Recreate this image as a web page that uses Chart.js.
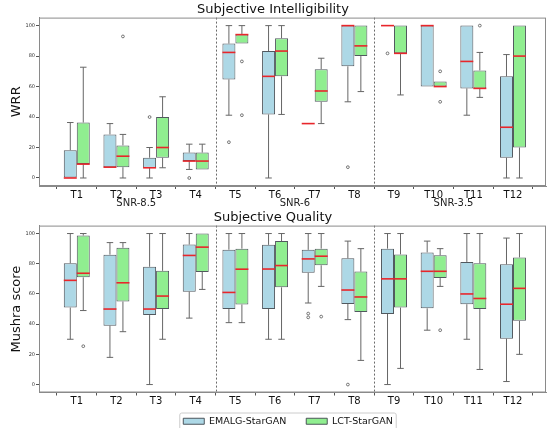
<!DOCTYPE html>
<html>
<head>
<meta charset="utf-8">
<script src="https://cdn.jsdelivr.net/npm/chart.js@4.4.1/dist/chart.umd.min.js"></script>
<style>
    html, body { margin: 0; padding: 0; background: #fff; overflow: hidden; }
    #wrap { position: relative; width: 547px; height: 428px; overflow: hidden; }
    .pane { position: absolute; left: 0; width: 547px; }
    #topPane { top: 0; height: 210px; }
    #botPane { top: 209px; height: 227px; }
</style>
</head>
<body>
<div id="wrap">
    <div class="pane" id="topPane"><canvas id="wrrChart"></canvas></div>
    <div class="pane" id="botPane"><canvas id="mosChart"></canvas></div>
</div>
<script>
// ---- data ----
const labels = ['T1','T2','T3','T4','T5','T6','T7','T8','T9','T10','T11','T12'];
const seriesNames = ['EMALG-StarGAN', 'LCT-StarGAN'];
const snrGroups = ['SNR-8.5', 'SNR-6', 'SNR-3.5'];
const snrGroupPos = [2.5, 6.5, 10.5];
const yTicks = [0, 20, 40, 60, 80, 100];

// WRR, EMALG-StarGAN
const wrrEmalgLo  = [0, 7.1, 0, 5.6, 41.2, 0, 35.7, 50, 100, 60, 41.2, 0];
const wrrEmalgQ1  = [0, 7.1, 6.7, 11.1, 64.7, 41.7, 35.7, 73.3, 100, 60, 58.8, 13.3];
const wrrEmalgMed = [0, 7.1, 6.7, 11.1, 82.4, 66.7, 35.7, 100, 100, 100, 76.5, 33.3];
const wrrEmalgQ3  = [18.2, 28.6, 13.3, 16.7, 88.2, 83.3, 35.7, 100, 100, 100, 100, 66.7];
const wrrEmalgHi  = [36.4, 35.7, 20, 22.2, 100, 100, 35.7, 100, 100, 100, 100, 81];
const wrrEmalgOut = [[], [], [40], [0], [23.5], [], [], [7.1], [81.8], [], [], []];

// WRR, LCT-StarGAN
const wrrLctLo  = [0, 0, 6.7, 5.6, 88.2, 41.7, 35.7, 56.7, 54.5, 60, 52.9, 0];
const wrrLctQ1  = [9.1, 7.1, 13.3, 5.6, 88.2, 66.7, 50, 80, 81.8, 60, 58.8, 20];
const wrrLctMed = [9.1, 14.3, 20, 11.1, 94.1, 83.3, 57.1, 86.7, 81.8, 60, 58.8, 80];
const wrrLctQ3  = [36.4, 21.4, 40, 16.7, 94.1, 91.7, 71.4, 100, 100, 63.3, 70.6, 100];
const wrrLctHi  = [72.7, 28.6, 53.3, 22.2, 100, 100, 78.6, 100, 100, 63.3, 82.4, 100];
const wrrLctOut = [[], [92.9], [], [], [76.5, 41.2], [], [], [], [], [70, 50], [100], []];

// Mushra, EMALG-StarGAN
const mosEmalgLo  = [30, 18, 0, 44, 41, 30, 54, 43, 0, 36, 30, 2];
const mosEmalgQ1  = [51, 39, 46, 61.5, 50, 50, 74, 53.4, 46.8, 50.5, 53.2, 30.4];
const mosEmalgMed = [69, 50, 50, 85.5, 61, 76.5, 83.2, 62.6, 70, 75, 60, 53.2];
const mosEmalgQ3  = [80.3, 86, 78, 92.7, 89.3, 92.5, 89.2, 83.6, 90, 87.5, 81.2, 79.6];
const mosEmalgHi  = [100, 94, 100, 100, 100, 100, 100, 95, 100, 95, 100, 97];
const mosEmalgOut = [[], [], [], [], [], [], [47, 44.5], [0], [], [], [], []];

// Mushra, LCT-StarGAN
const mosLctLo  = [49, 35, 30, 63, 41, 30, 65, 16, 10.7, 65, 10, 20];
const mosLctQ1  = [71, 55, 50, 74.6, 53, 64.4, 79, 48, 51, 70.5, 50, 42.2];
const mosLctMed = [73.7, 67.4, 58.6, 91, 76.4, 78.8, 85, 58, 70, 75, 57, 63.7];
const mosLctQ3  = [98.7, 90.6, 75.3, 100, 90, 95, 90, 74.8, 86.2, 85.6, 80.3, 84.2];
const mosLctHi  = [100, 94, 100, 100, 100, 100, 100, 90, 100, 90, 100, 100];
const mosLctOut = [[25.4], [], [], [], [], [], [45], [], [], [36], [], []];

(function() {
    'use strict';

    const FONT = "'DejaVu Sans', 'Liberation Sans', sans-serif";
    const BLUE = '#add8e6', GREEN = '#90ee90';
    const EDGE = 'rgba(62,70,76,0.9)', WHISK = '#666', MED = '#e8262b';

    function boxSet(name, color, q1, q3, med, lo, hi, out) {
        return {
            label: name,
            data: labels.map((l, i) => ({ x: i + 1, y: [q1[i], q3[i]] })),
            backgroundColor: color,
            borderColor: EDGE,
            borderWidth: 1,
            borderSkipped: false,
            categoryPercentage: 0.655,
            barPercentage: 1.0,
            med: med, lo: lo, hi: hi, out: out, q1: q1, q3: q3
        };
    }

    // whiskers, caps, medians, fliers, group dividers, frame
    const boxExtras = {
        id: 'boxExtras',
        afterLayout(chart) {
            // let the tick labels of the lower axis spill over the legend band
            const xs = chart.scales.x;
            if (xs.bottom - xs.top < 20) xs.bottom = xs.top + 20;
            // legend sits a bit right of the canvas centre, under the plot
            if (chart.legend && chart.legend.options.display) {
                chart.legend.left += 15;
                chart.legend.right += 15;
            }
        },
        afterDatasetsDraw(chart) {
            const ctx = chart.ctx, ys = chart.scales.y, xs = chart.scales.x;
            const area = chart.chartArea;
            ctx.save();
            chart.data.datasets.forEach((ds, di) => {
                const meta = chart.getDatasetMeta(di);
                meta.data.forEach((bar, i) => {
                    const cx = bar.x, half = bar.width / 2, cap = bar.width / 4;
                    const pq1 = ys.getPixelForValue(ds.q1[i]), pq3 = ys.getPixelForValue(ds.q3[i]);
                    const plo = ys.getPixelForValue(ds.lo[i]), phi = ys.getPixelForValue(ds.hi[i]);
                    ctx.strokeStyle = WHISK;
                    ctx.lineWidth = 1;
                    if (ds.hi[i] > ds.q3[i]) {
                        ctx.beginPath();
                        ctx.moveTo(cx, pq3); ctx.lineTo(cx, phi);
                        ctx.moveTo(cx - cap, phi); ctx.lineTo(cx + cap, phi);
                        ctx.stroke();
                    }
                    if (ds.lo[i] < ds.q1[i]) {
                        ctx.beginPath();
                        ctx.moveTo(cx, pq1); ctx.lineTo(cx, plo);
                        ctx.moveTo(cx - cap, plo); ctx.lineTo(cx + cap, plo);
                        ctx.stroke();
                    }
                    ctx.strokeStyle = '#555';
                    ctx.lineWidth = 0.8;
                    ds.out[i].forEach(v => {
                        ctx.beginPath();
                        ctx.arc(cx, ys.getPixelForValue(v), 1.4, 0, Math.PI * 2);
                        ctx.stroke();
                    });
                    const pm = ys.getPixelForValue(ds.med[i]);
                    ctx.strokeStyle = MED;
                    ctx.lineWidth = 1.6;
                    ctx.beginPath();
                    ctx.moveTo(cx - half, pm); ctx.lineTo(cx + half, pm);
                    ctx.stroke();
                });
            });
            // dashed dividers between SNR groups
            ctx.strokeStyle = '#444';
            ctx.lineWidth = 0.8;
            ctx.setLineDash([2, 2]);
            [4.5, 8.5].forEach(v => {
                const px = Math.round(xs.getPixelForValue(v)) + 0.5;
                ctx.beginPath();
                ctx.moveTo(px, area.top); ctx.lineTo(px, area.bottom);
                ctx.stroke();
            });
            ctx.setLineDash([]);
            ctx.restore();
        },
        afterDraw(chart, args, opts) {
            const ctx = chart.ctx, area = chart.chartArea, xs = chart.scales.x;
            ctx.save();
            ctx.strokeStyle = '#8a8a8a';
            ctx.lineWidth = 1;
            ctx.strokeRect(area.left + 0.5, area.top + 0.5, area.right - area.left - 1, area.bottom - area.top - 1);
            if (opts.groups) {
                ctx.fillStyle = '#222';
                ctx.font = '10px ' + FONT;
                ctx.textAlign = 'center';
                ctx.textBaseline = 'middle';
                snrGroups.forEach((g, i) => {
                    ctx.fillText(g, xs.getPixelForValue(snrGroupPos[i]), area.bottom + 17);
                });
            }
            const lg = chart.legend;
            if (lg && lg.options.display && lg.legendHitBoxes && lg.legendHitBoxes.length) {
                const hb = lg.legendHitBoxes, last = hb[hb.length - 1];
                const l = hb[0].left - 4, r = last.left + last.width + 3;
                const t = hb[0].top - 4, b = hb[0].top + hb[0].height + 12;
                ctx.strokeStyle = '#cccccc';
                ctx.lineWidth = 1;
                ctx.beginPath();
                ctx.roundRect(l + 0.5, t + 0.5, r - l, b - t, 2);
                ctx.stroke();
            }
            ctx.restore();
        }
    };

    function buildOptions(title, yTitle, opts) {
        return {
            responsive: true,
            maintainAspectRatio: false,
            animation: false,
            layout: { padding: { left: 0, right: 1, top: 0, bottom: 0 } },
            plugins: {
                title: { display: true, text: title, color: '#111', font: { family: FONT, size: 13, weight: 'normal' }, padding: { top: opts.titleTop, bottom: 0 } },
                legend: opts.legend ? {
                    display: true, position: 'bottom',
                    labels: { boxWidth: 21, boxHeight: 6, padding: 20, color: '#111', font: { family: FONT, size: 9.5 } }
                } : { display: false },
                tooltip: { enabled: false },
                boxExtras: { groups: opts.groups }
            },
            scales: {
                x: {
                    type: 'linear', min: 0.58, max: 12.3,
                    afterBuildTicks: s => { s.ticks = labels.map((l, i) => ({ value: i + 1 })); },
                    afterFit: s => { s.height = opts.xHeight; },
                    ticks: { callback: v => labels[v - 1], color: '#111', padding: 0, maxRotation: 0, autoSkip: false, font: { family: FONT, size: 10 } },
                    grid: { drawOnChartArea: false, tickLength: 3, color: '#555' },
                    border: { color: '#8a8a8a' }
                },
                y: {
                    min: -5.26, max: 105.26,
                    afterBuildTicks: s => { s.ticks = yTicks.map(v => ({ value: v })); },
                    afterFit: s => { s.width = 39; },
                    ticks: { color: '#333', padding: 1, font: { family: FONT, size: 5 } },
                    grid: { drawOnChartArea: false, tickLength: 3, color: '#555' },
                    border: { color: '#8a8a8a' },
                    title: { display: true, text: yTitle, color: '#111', font: { family: FONT, size: 13 }, padding: { top: 9, bottom: 0 } }
                }
            }
        };
    }

    new Chart(document.getElementById('wrrChart'), {
        type: 'bar',
        data: {
            datasets: [
                boxSet(seriesNames[0], BLUE, wrrEmalgQ1, wrrEmalgQ3, wrrEmalgMed, wrrEmalgLo, wrrEmalgHi, wrrEmalgOut),
                boxSet(seriesNames[1], GREEN, wrrLctQ1, wrrLctQ3, wrrLctMed, wrrLctLo, wrrLctHi, wrrLctOut)
            ]
        },
        options: buildOptions('Subjective Intelligibility', 'WRR', { titleTop: 2, legend: false, groups: true, xHeight: 24 }),
        plugins: [boxExtras]
    });

    new Chart(document.getElementById('mosChart'), {
        type: 'bar',
        data: {
            datasets: [
                boxSet(seriesNames[0], BLUE, mosEmalgQ1, mosEmalgQ3, mosEmalgMed, mosEmalgLo, mosEmalgHi, mosEmalgOut),
                boxSet(seriesNames[1], GREEN, mosLctQ1, mosLctQ3, mosLctMed, mosLctLo, mosLctHi, mosLctOut)
            ]
        },
        options: buildOptions('Subjective Quality', 'Mushra score', { titleTop: 1, legend: true, groups: false, xHeight: 4 }),
        plugins: [boxExtras]
    });
})();
</script>
</body>
</html>
